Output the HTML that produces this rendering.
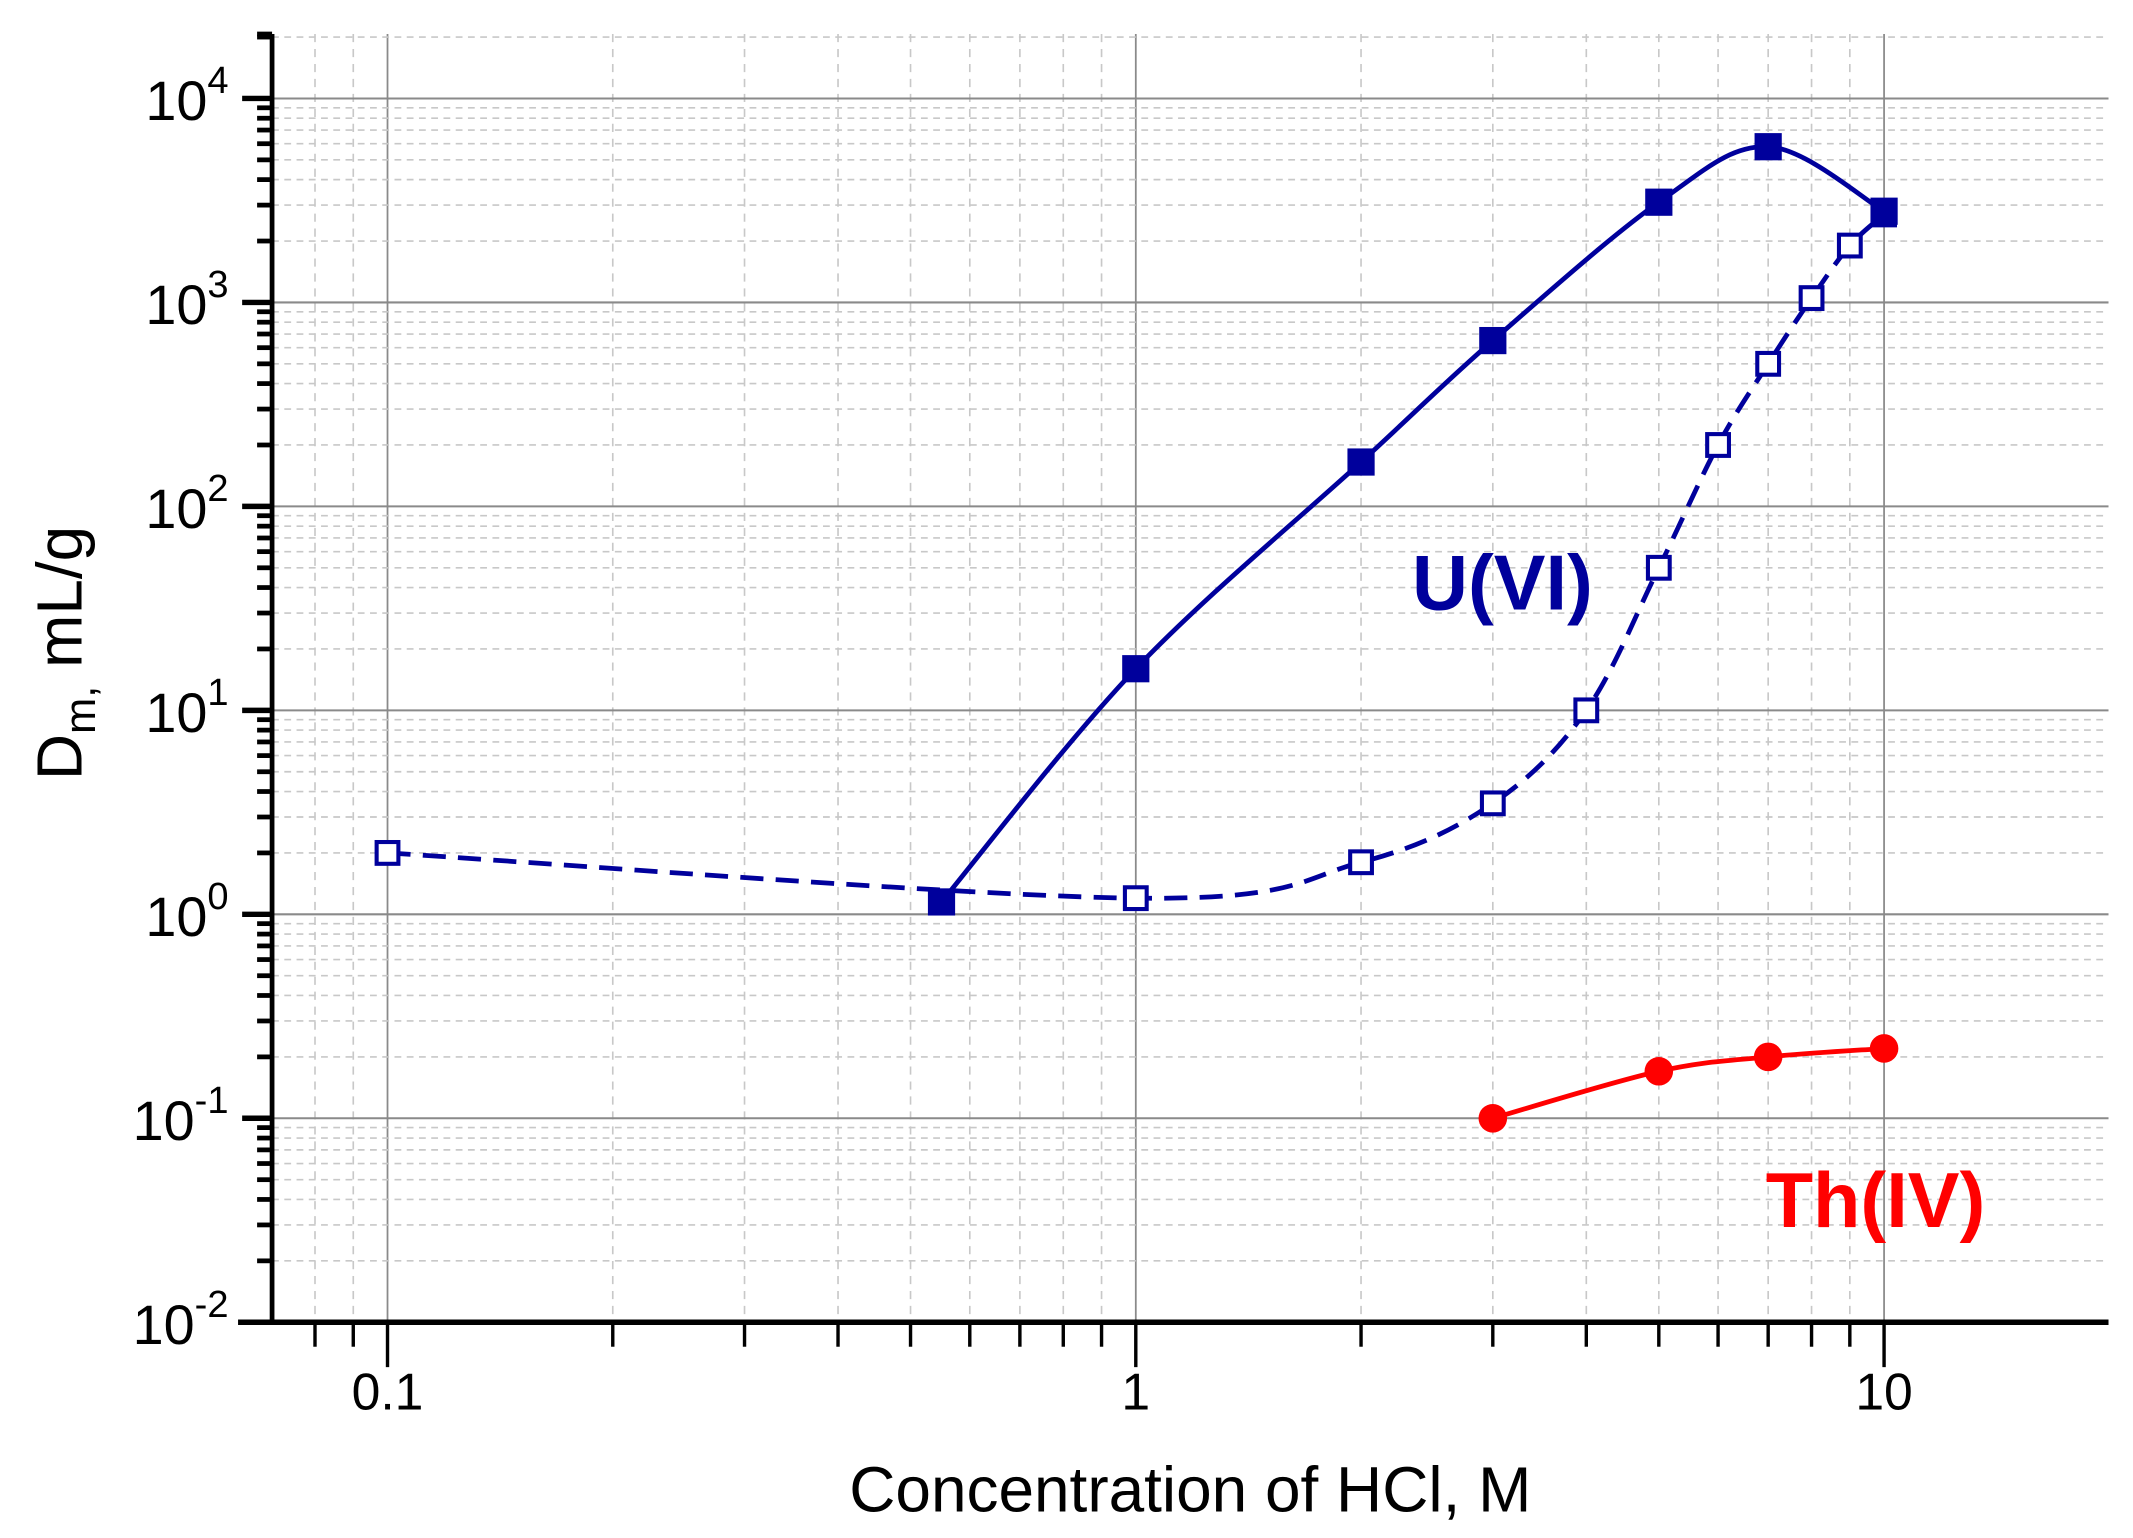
<!DOCTYPE html>
<html><head><meta charset="utf-8"><style>
html,body{margin:0;padding:0;background:#fff;}
svg{display:block;font-family:"Liberation Sans",Arial,sans-serif;}
</style></head><body>
<svg id="chart" width="2133" height="1538" viewBox="0 0 1568 1130.6" xmlns="http://www.w3.org/2000/svg">
<g id="grid"></g>
<g id="series"></g>
<g id="axes"></g>
<text x="1038" y="448" font-size="57" font-weight="bold" fill="#00009c">U(VI)</text>
<text x="1298" y="902" font-size="57" font-weight="bold" fill="#ff0000">Th(IV)</text>
<text x="875" y="1111" font-size="47" text-anchor="middle">Concentration of HCl, M</text>
<text transform="translate(60,480) rotate(-90)" font-size="47" text-anchor="middle">D<tspan font-size="32" dy="10">m,</tspan><tspan dy="-10"> mL/g</tspan></text>
</svg>
<script>
const uSolidX=[0.55,1,2,3,5,7,10];
const uSolidY=[1.15,16,165,650,3100,5800,2800];
const uOpenX=[0.1,1,2,3,4,5,6,7,8,9,10];
const uOpenY=[2.0,1.2,1.8,3.5,10,50,200,500,1050,1900,2700];
const thX=[3,5,7,10];
const thY=[0.1,0.17,0.2,0.22];
const xTickLabels=["0.1","1","10"];
const yTickExps=[-2,-1,0,1,2,3,4];

const L=200,R=1550,T=25,B=972;
const xMin=Math.log10(0.0701),xMax=Math.log10(19.95);
const yMin=-2,yMax=Math.log10(20700);
function sx(v){return L+(Math.log10(v)-xMin)/(xMax-xMin)*(R-L);}
function sy(v){return B-(Math.log10(v)-yMin)/(yMax-yMin)*(B-T);}
const NS="http://www.w3.org/2000/svg";
function mk(tag,attrs,parent){const e=document.createElementNS(NS,tag);for(const k in attrs)e.setAttribute(k,attrs[k]);parent.appendChild(e);return e;}
const grid=document.getElementById('grid'),axes=document.getElementById('axes'),series=document.getElementById('series');

for(let d=-2;d<=1;d++){for(let m=1;m<=9;m++){const v=m*Math.pow(10,d);if(v<0.0701||v>19.96)continue;const x=sx(v);
 const major=m===1;
 const g=mk('line',{x1:x,x2:x,y1:T,y2:B,stroke:major?'#8a8a8a':'#c8c8c8','stroke-width':major?1.3:1.2,'stroke-dasharray':major?'none':'6 5'},grid);
 
 
 const t=mk('line',{x1:x,x2:x,y1:B,y2:B+(major?33:18),stroke:'#000','stroke-width':2.5},axes);
 
 
}}
xTickLabels.forEach(s=>{const v=parseFloat(s);const t=mk('text',{x:sx(v),y:B+64,'font-size':38,'text-anchor':'middle'},axes);t.textContent=s;
 
 });
for(let d=-2;d<=4;d++){for(let m=1;m<=9;m++){const v=m*Math.pow(10,d);if(Math.log10(v)>yMax)continue;const y=sy(v);
 const major=m===1;
 if(d>-2||m>1){const g=mk('line',{x1:L,x2:R,y1:y,y2:y,stroke:major?'#8a8a8a':'#c8c8c8','stroke-width':major?1.5:1.2,'stroke-dasharray':major?'none':'5 4'},grid);
 
 }
 const t=mk('line',{x1:L-(major?22:11),x2:L,y1:y,y2:y,stroke:'#000','stroke-width':major?4:3.5},axes);
 
 
}}
{const t=mk('line',{x1:L-11,x2:L,y1:T,y2:T,stroke:'#000','stroke-width':3.5},axes);}
yTickExps.forEach(e=>{const y=sy(Math.pow(10,e));const t=mk('text',{x:L-32,y:y+16,'font-size':41,'text-anchor':'end'},axes);
 t.textContent='10';const ts=mk('tspan',{'font-size':28,dy:-20},t);ts.textContent=String(e);
 
 });
{const a=mk('line',{x1:L,x2:L,y1:T,y2:B+2,stroke:'#000','stroke-width':3.5},axes);
 const b=mk('line',{x1:L-25,x2:R,y1:B,y2:B,stroke:'#000','stroke-width':4},axes);}

function curve(xs,ys){const p=xs.map((x,i)=>[sx(x),sy(ys[i])]);let d='M'+p[0][0]+','+p[0][1];
 for(let i=0;i<p.length-1;i++){const p0=p[i-1]||p[i],p1=p[i],p2=p[i+1],p3=p[i+2]||p2;
  const c1=[p1[0]+(p2[0]-p0[0])/6,p1[1]+(p2[1]-p0[1])/6],c2=[p2[0]-(p3[0]-p1[0])/6,p2[1]-(p3[1]-p1[1])/6];
  d+=' C'+c1[0]+','+c1[1]+' '+c2[0]+','+c2[1]+' '+p2[0]+','+p2[1];}return d;}
const blue='#00009c';
{const c=mk('path',{d:curve(uOpenX,uOpenY),fill:'none',stroke:blue,'stroke-width':3.5,'stroke-dasharray':'17 9'},series);}
{const c=mk('path',{d:curve(uSolidX,uSolidY),fill:'none',stroke:blue,'stroke-width':3.5},series);}
{const c=mk('path',{d:curve(thX,thY),fill:'none',stroke:'#ff0000','stroke-width':3.5},series);}
uOpenX.forEach((x,i)=>{const m=mk('rect',{x:sx(x)-8,y:sy(uOpenY[i])-8,width:16,height:16,fill:'#fff',stroke:blue,'stroke-width':3},series);
 
 });
uSolidX.forEach((x,i)=>{const m=mk('rect',{x:sx(x)-10,y:sy(uSolidY[i])-10,width:20,height:20,fill:blue},series);
 
 });
thX.forEach((x,i)=>{const m=mk('circle',{cx:sx(x),cy:sy(thY[i]),r:10.5,fill:'#ff0000'},series);
 
 });
</script>
</body></html>
